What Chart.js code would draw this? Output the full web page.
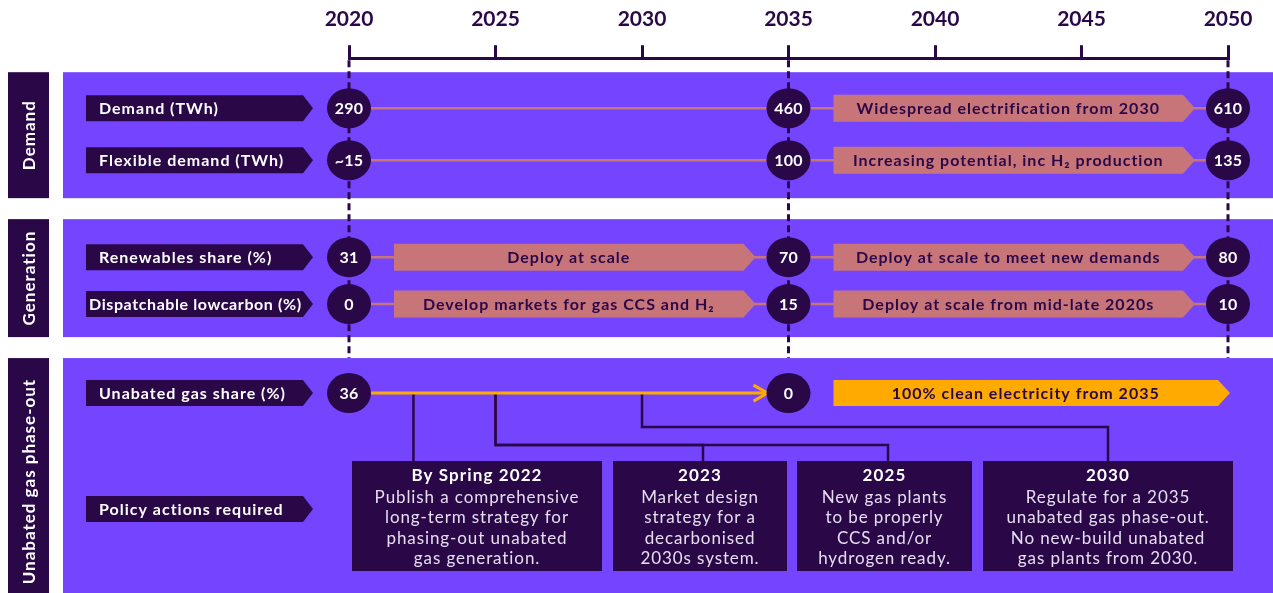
<!DOCTYPE html>
<html><head><meta charset="utf-8">
<script src="https://cdn.jsdelivr.net/npm/chart.js@4/dist/chart.umd.min.js"></script>
<style>html,body{margin:0;padding:0;background:#fff;overflow:hidden}</style>
</head><body><canvas id="c" width="1273" height="593"></canvas>
<script>
// ---------------- DATA ----------------
const axisYears = [2020, 2025, 2030, 2035, 2040, 2045, 2050];
const milestoneYears = [2020, 2035, 2050];
const sectionNames = ['Demand', 'Generation', 'Unabated gas phase-out'];
const rowNames = ['Demand (TWh)', 'Flexible demand (TWh)', 'Renewables share (%)', 'Dispatchable lowcarbon (%)'];
const demandTWh = ['290', '460', '610'];
const flexibleTWh = ['~15', '100', '135'];
const renewablesPct = ['31', '70', '80'];
const dispatchablePct = ['0', '15', '10'];
const demandNotes = ['', 'Widespread electrification from 2030'];
const flexibleNotes = ['', 'Increasing potential, inc H\u2082 production'];
const renewablesNotes = ['Deploy at scale', 'Deploy at scale to meet new demands'];
const dispatchableNotes = ['Develop markets for gas CCS and H\u2082', 'Deploy at scale from mid-late 2020s'];
const gasLabel = 'Unabated gas share (%)';
const gasYears = [2020, 2035];
const gasPct = ['36', '0'];
const gasNote = '100% clean electricity from 2035';
const policyLabel = 'Policy actions required';
const policyTitles = ['By Spring 2022', '2023', '2025', '2030'];
const policyLinkYears = [2022.2, 2025, 2025, 2030];
const policyTexts = [
  ['Publish a comprehensive', 'long-term strategy for', 'phasing-out unabated', 'gas generation.'],
  ['Market design', 'strategy for a', 'decarbonised', '2030s system.'],
  ['New gas plants', 'to be properly', 'CCS and/or', 'hydrogen ready.'],
  ['Regulate for a 2035', 'unabated gas phase-out.', 'No new-build unabated', 'gas plants from 2030.']
];
const rowValues = [demandTWh, flexibleTWh, renewablesPct, dispatchablePct];
const rowNotes = [demandNotes, flexibleNotes, renewablesNotes, dispatchableNotes];

// ---------------- LAYOUT / STYLE ----------------
const DARK = '#2A0848', VIOLET = '#7444FF', SALMON = '#C8757A', ORANGE = '#FFAA00', LIGHT = '#E6DEF0';
const FONT = 'Lato, "Open Sans", sans-serif';
const LY = {
  sectionSpans: [[72, 198], [219, 337], [358, 593]],
  sideX: 8, sideW: 41, panelX: 63,
  rowY: [108, 160, 257, 304], gasY: 393, policyY: 509,
  labelX: 86, labelEnd: 303, labelTip: 313, labelH: 26,
  dashEnd: 358,
  policyBoxes: [[352, 602], [613, 787], [797, 972], [983, 1233]],
  policyTop: 461, policyBottom: 571,
  policyDropX: [null, 703, 888, 1108],
  policyElbowY: [null, 445, 445, 427]
};

function spacing(ctx, px) { if ('letterSpacing' in ctx) ctx.letterSpacing = px + 'px'; }
function pent(ctx, x0, x1, tip, yc, h) {
  ctx.beginPath();
  ctx.moveTo(x0, yc - h / 2); ctx.lineTo(x1, yc - h / 2); ctx.lineTo(tip, yc);
  ctx.lineTo(x1, yc + h / 2); ctx.lineTo(x0, yc + h / 2); ctx.closePath(); ctx.fill();
}
function ellipse(ctx, x, y, txt) {
  ctx.fillStyle = DARK;
  ctx.beginPath(); ctx.ellipse(x, y, 22, 20, 0, 0, Math.PI * 2); ctx.fill();
  ctx.fillStyle = '#FFFFFF'; ctx.font = 'bold 16px ' + FONT; spacing(ctx, 0.3);
  ctx.textAlign = 'center'; ctx.textBaseline = 'middle';
  ctx.fillText(txt, x, y + 1);
}
function rowLabel(ctx, Y, yv, txt) {
  const y = Y(yv);
  ctx.fillStyle = DARK;
  pent(ctx, LY.labelX, LY.labelEnd, LY.labelTip, y, LY.labelH);
  ctx.fillStyle = '#FFFFFF'; ctx.textBaseline = 'middle'; ctx.textAlign = 'left';
  let size = 16, sp = 1; ctx.font = 'bold ' + size + 'px ' + FONT; spacing(ctx, sp);
  let x = LY.labelX + 13;
  if (ctx.measureText(txt).width > 200) {
    x = LY.labelX + 3; sp = 0.6; spacing(ctx, sp);
    while (ctx.measureText(txt).width > 218 && size > 11) { size -= 0.5; ctx.font = 'bold ' + size + 'px ' + FONT; }
  }
  ctx.fillText(txt, x, y + 1);
}

const timeline = {
  id: 'timeline',
  beforeDraw(chart) {
    const ctx = chart.ctx, Y = v => chart.scales.y.getPixelForValue(v);
    ctx.save();
    ctx.fillStyle = '#FFFFFF'; ctx.fillRect(0, 0, chart.width, chart.height);
    LY.sectionSpans.forEach((s, i) => {
      const t = Y(s[0]), b = Y(s[1]);
      ctx.fillStyle = VIOLET; ctx.fillRect(LY.panelX, t, chart.width - LY.panelX, b - t);
      ctx.fillStyle = DARK; ctx.fillRect(LY.sideX, t, LY.sideW, b - t);
      ctx.save();
      ctx.translate(LY.sideX + LY.sideW / 2 + 1, (t + b) / 2 + (i === 2 ? 6 : 0));
      ctx.rotate(-Math.PI / 2);
      ctx.fillStyle = '#FFFFFF'; ctx.font = 'bold 17px ' + FONT; spacing(ctx, 1);
      ctx.textAlign = 'center'; ctx.textBaseline = 'middle';
      ctx.fillText(sectionNames[i], 0, 0);
      ctx.restore();
    });
    ctx.restore();
  },
  beforeDatasetsDraw(chart) {
    const ctx = chart.ctx, X = v => chart.scales.x.getPixelForValue(v), Y = v => chart.scales.y.getPixelForValue(v);
    ctx.save();
    ctx.strokeStyle = DARK; ctx.lineWidth = 3; ctx.setLineDash([7, 4]);
    milestoneYears.forEach(yr => {
      ctx.beginPath(); ctx.moveTo(X(yr), chart.chartArea.top + 2); ctx.lineTo(X(yr), Y(LY.dashEnd)); ctx.stroke();
    });
    ctx.setLineDash([]);
    ctx.lineWidth = 2.5; ctx.lineJoin = 'miter';
    policyLinkYears.forEach((yr, i) => {
      const x0 = X(yr), y0 = Y(LY.gasY);
      ctx.beginPath(); ctx.moveTo(x0, y0);
      if (LY.policyElbowY[i] === null) {
        ctx.lineTo(x0, Y(LY.policyTop));
      } else {
        const ye = Y(LY.policyElbowY[i]);
        ctx.lineTo(x0, ye); ctx.lineTo(LY.policyDropX[i], ye); ctx.lineTo(LY.policyDropX[i], Y(LY.policyTop));
      }
      ctx.stroke();
    });
    ctx.restore();
  },
  afterDatasetsDraw(chart) {
    const ctx = chart.ctx, X = v => chart.scales.x.getPixelForValue(v), Y = v => chart.scales.y.getPixelForValue(v);
    ctx.save();
    rowNotes.forEach((notes, r) => {
      const y = Y(LY.rowY[r]);
      notes.forEach((txt, s) => {
        if (!txt) return;
        const x0 = X(milestoneYears[s]) + 45, tip = X(milestoneYears[s + 1]) - 33, x1 = tip - 12;
        ctx.fillStyle = SALMON; pent(ctx, x0, x1, tip, y, 27);
        ctx.fillStyle = DARK; ctx.font = 'bold 16px ' + FONT; spacing(ctx, 1);
        ctx.textAlign = 'center'; ctx.textBaseline = 'middle';
        ctx.fillText(txt, (x0 + x1) / 2, y + 1);
      });
    });
    const gy = Y(LY.gasY);
    {
      const x0 = X(gasYears[1]) + 45, tip = X(2050) + 2, x1 = tip - 12;
      ctx.fillStyle = ORANGE; pent(ctx, x0, x1, tip, gy, 26);
      ctx.fillStyle = DARK; ctx.font = 'bold 16px ' + FONT; spacing(ctx, 1);
      ctx.textAlign = 'center'; ctx.textBaseline = 'middle';
      ctx.fillText(gasNote, (x0 + x1) / 2, gy + 1);
    }
    {
      const tx = X(gasYears[1]) - 21;
      ctx.strokeStyle = ORANGE; ctx.lineWidth = 3; ctx.lineJoin = 'miter';
      ctx.beginPath(); ctx.moveTo(tx - 14, gy - 8); ctx.lineTo(tx, gy); ctx.lineTo(tx - 14, gy + 8); ctx.stroke();
    }
    rowValues.forEach((vals, r) => vals.forEach((v, k) => ellipse(ctx, X(milestoneYears[k]), Y(LY.rowY[r]), v)));
    gasPct.forEach((v, k) => ellipse(ctx, X(gasYears[k]), gy, v));
    rowNames.forEach((n, r) => rowLabel(ctx, Y, LY.rowY[r], n));
    rowLabel(ctx, Y, LY.gasY, gasLabel);
    rowLabel(ctx, Y, LY.policyY, policyLabel);
    const bt = Y(LY.policyTop), bb = Y(LY.policyBottom);
    LY.policyBoxes.forEach((b, i) => {
      ctx.fillStyle = DARK; ctx.fillRect(b[0], bt, b[1] - b[0], bb - bt);
      const cx = (b[0] + b[1]) / 2;
      ctx.textAlign = 'center'; ctx.textBaseline = 'middle';
      ctx.fillStyle = '#FFFFFF'; ctx.font = 'bold 17px ' + FONT; spacing(ctx, 1.1);
      ctx.fillText(policyTitles[i], cx, bt + 14);
      ctx.fillStyle = LIGHT; ctx.font = '17px ' + FONT; spacing(ctx, 0.9);
      policyTexts[i].forEach((line, j) => ctx.fillText(line, cx, bt + 36 + j * 20.5));
    });
    ctx.restore();
  }
};

const datasets = rowValues.map((vals, r) => ({
  data: milestoneYears.map(yr => ({ x: yr, y: LY.rowY[r] })),
  borderColor: SALMON, borderWidth: 2.5, pointRadius: 0, tension: 0
}));
datasets.push({
  data: gasYears.map(yr => ({ x: yr, y: LY.gasY })),
  borderColor: ORANGE, borderWidth: 3, pointRadius: 0, tension: 0
});

new Chart(document.getElementById('c'), {
  type: 'line',
  data: { datasets },
  options: {
    responsive: false, animation: false, events: [],
    layout: { padding: { left: 349, right: 45, top: -6, bottom: 0 } },
    plugins: { legend: { display: false }, tooltip: { enabled: false } },
    scales: {
      x: {
        type: 'linear', position: 'top', min: axisYears[0], max: axisYears[axisYears.length - 1],
        afterBuildTicks: s => { s.ticks = axisYears.map(v => ({ value: v })); },
        ticks: { autoSkip: false, maxRotation: 0, padding: 13, color: DARK,
                 font: { family: FONT, size: 21, weight: 'bold' }, callback: v => String(v) },
        grid: { drawOnChartArea: false, drawTicks: true, tickLength: 13, color: DARK, lineWidth: 3 },
        border: { display: true, color: DARK, width: 3 }
      },
      y: { type: 'linear', display: false, min: 58, max: 593, reverse: true }
    }
  },
  plugins: [timeline]
});
</script>
</body></html>
